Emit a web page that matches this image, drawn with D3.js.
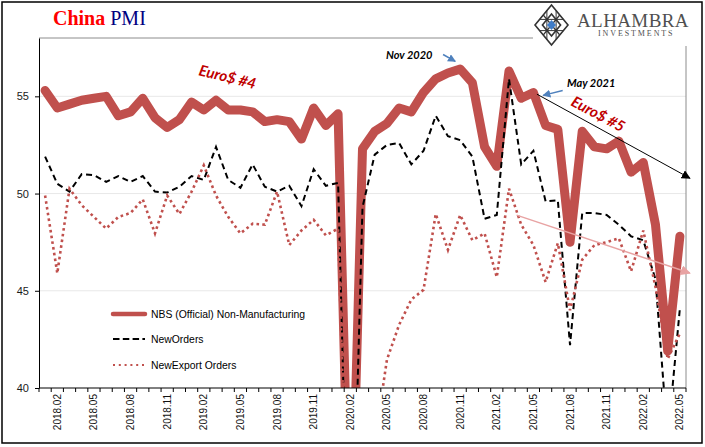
<!DOCTYPE html>
<html><head><meta charset="utf-8">
<script src="https://cdn.jsdelivr.net/npm/d3@7"></script>
<style>html,body{margin:0;padding:0;background:#fff;} svg{display:block;}</style>
</head><body>
<svg id="chart" width="705" height="447"></svg>
<script>
// ---------------- DATA ----------------
const categories = [
 "2018.01","2018.02","2018.03","2018.04","2018.05","2018.06","2018.07","2018.08","2018.09","2018.10","2018.11","2018.12",
 "2019.01","2019.02","2019.03","2019.04","2019.05","2019.06","2019.07","2019.08","2019.09","2019.10","2019.11","2019.12",
 "2020.01","2020.02","2020.03","2020.04","2020.05","2020.06","2020.07","2020.08","2020.09","2020.10","2020.11","2020.12",
 "2021.01","2021.02","2021.03","2021.04","2021.05","2021.06","2021.07","2021.08","2021.09","2021.10","2021.11","2021.12",
 "2022.01","2022.02","2022.03","2022.04","2022.05"];
const tickLabels = ["2018.02","2018.05","2018.08","2018.11","2019.02","2019.05","2019.08","2019.11","2020.02","2020.05","2020.08","2020.11","2021.02","2021.05","2021.08","2021.11","2022.02","2022.05"];
const nbs = [55.3,54.4,54.6,54.8,54.9,55.0,54.0,54.2,54.9,53.9,53.4,53.8,
 54.7,54.3,54.8,54.3,54.3,54.2,53.7,53.8,53.7,52.8,54.4,53.5,
 54.1,29.6,52.3,53.2,53.6,54.4,54.2,55.2,55.9,56.2,56.4,55.7,
 52.4,51.4,56.3,54.9,55.2,53.5,53.3,47.5,53.2,52.4,52.3,52.7,
 51.1,51.6,48.4,41.9,47.8];
const newOrders = [51.9,50.5,50.1,51.0,50.95,50.6,50.9,50.6,50.9,50.1,50.05,50.35,
 50.9,50.7,52.4,50.7,50.3,51.5,50.35,50.1,50.4,49.35,51.25,50.4,
 50.55,26.5,49.3,52.0,52.5,52.6,51.5,52.2,54.0,52.95,52.75,51.9,
 48.7,48.9,55.9,51.5,52.2,49.6,49.65,42.2,49.0,49.0,48.9,48.4,
 47.8,47.6,45.6,37.4,44.1];
const exportOrders = [49.9,45.9,50.25,49.4,48.8,48.2,48.8,49.0,49.7,47.95,49.9,48.95,
 50.1,51.45,49.9,48.8,47.95,48.45,48.4,50.1,47.35,48.1,48.65,47.85,
 48.2,26.9,33.0,37.2,41.45,43.25,44.55,45.05,48.95,47.1,48.9,47.6,
 47.95,45.7,50.25,48.4,47.35,45.45,47.45,44.0,46.6,47.35,47.5,47.7,
 46.0,48.1,45.2,41.5,42.8];
const yTicks = [40,45,50,55];
const gridValues = [45,50,55];
const seriesNames = ["NBS (Official) Non-Manufacturing","NewOrders","NewExport Orders"];
// annotation anchors in (month index, value) space
const trendBlack = [[40.29,55.11],[52.82,50.79]];
const trendPink = [[38.62,48.89],[52.82,45.91]];
const arrowNov = [[32.6,57.15],[33.6,56.8]];
const arrowMay = [[42.4,55.3],[40.8,55.05]];

// ---------------- CHART ----------------
const svg = d3.select("#chart");
const plot = {left:39, right:686, top:38, bottom:388};
const x = d3.scaleBand().domain(categories).range([plot.left, plot.right]).padding(0);
const xc = c => x(c) + x.bandwidth()/2;
const xi = d3.scaleLinear().domain([0, categories.length-1])
  .range([xc(categories[0]), xc(categories[categories.length-1])]);
const y = d3.scaleLinear().domain([40,58]).range([plot.bottom, plot.top]);

const red = "#C0504D";

// outer frame
svg.append("rect").attr("x",2).attr("y",2).attr("width",700).attr("height",441)
  .attr("fill","#fff").attr("stroke","#000").attr("stroke-width",1.5);

// defs
const defs = svg.append("defs");
defs.append("clipPath").attr("id","clip").append("rect")
  .attr("x",plot.left).attr("y",plot.top).attr("width",plot.right-plot.left).attr("height",plot.bottom-plot.top);
function marker(id,color,size){
  defs.append("marker").attr("id",id).attr("viewBox","0 0 10 10").attr("refX",9).attr("refY",5)
    .attr("markerWidth",size).attr("markerHeight",size).attr("markerUnits","userSpaceOnUse")
    .attr("orient","auto").append("path").attr("d","M0,0 L10,5 L0,10 z").attr("fill",color);
}
marker("mBlack","#000",9);
marker("mPink","#E8A3A3",10);
marker("mBlue","#4F81BD",8);

// gridlines
svg.append("g").selectAll("line").data(gridValues).join("line")
  .attr("x1",plot.left).attr("x2",plot.right).attr("y1",d=>y(d)).attr("y2",d=>y(d))
  .attr("stroke","#e8e8e8").attr("stroke-width",1);

// plot border (top + right, gray)
svg.append("line").attr("x1",plot.left).attr("x2",533).attr("y1",plot.top).attr("y2",plot.top)
  .attr("stroke","#8c8c8c").attr("stroke-width",1);
svg.append("line").attr("x1",plot.right).attr("x2",plot.right).attr("y1",46).attr("y2",plot.bottom)
  .attr("stroke","#8c8c8c").attr("stroke-width",1);

// series
const line = d3.line().x((d,i)=>xc(categories[i])).y(d=>y(d));
const g = svg.append("g").attr("clip-path","url(#clip)");
g.append("path").datum(nbs).attr("d",line).attr("fill","none").attr("stroke",red)
  .attr("stroke-width",9).attr("stroke-linejoin","round").attr("stroke-linecap","round");
g.append("path").datum(newOrders).attr("d",line).attr("fill","none").attr("stroke","#000")
  .attr("stroke-width",2).attr("stroke-dasharray","6,4");
g.append("path").datum(exportOrders).attr("d",line).attr("fill","none").attr("stroke",red)
  .attr("stroke-width",2.6).attr("stroke-dasharray","2.6,3.2");

// y axis
const yAxis = svg.append("g").attr("transform",`translate(${plot.left},0)`)
  .call(d3.axisLeft(y).tickValues(yTicks).tickSize(4).tickSizeOuter(0).tickPadding(6));
yAxis.select(".domain").attr("stroke","#000");
yAxis.selectAll(".tick line").attr("stroke","#000");
yAxis.selectAll(".tick text").attr("font-family","'Liberation Sans', Arial, sans-serif")
  .attr("font-size","11px").attr("fill","#1a1a1a");

// x axis
const xg = svg.append("g");
xg.append("line").attr("x1",plot.left).attr("x2",plot.right).attr("y1",plot.bottom).attr("y2",plot.bottom)
  .attr("stroke","#000");
const bounds = categories.map(c=>x(c)).concat([plot.right]);
xg.selectAll("line.t").data(bounds).join("line").attr("class","t")
  .attr("x1",d=>d).attr("x2",d=>d).attr("y1",plot.bottom).attr("y2",plot.bottom+4).attr("stroke","#000");
xg.selectAll("text").data(tickLabels).join("text")
  .attr("transform",d=>`translate(${xc(d)},${plot.bottom+6}) rotate(-90)`)
  .attr("text-anchor","end").attr("dy","0.35em")
  .attr("font-family","'Liberation Sans', Arial, sans-serif").attr("font-size","10px").attr("fill","#111")
  .text(d=>d);

// legend
const legY = [314,339,365];
const leg = svg.append("g");
leg.append("line").attr("x1",113).attr("x2",145).attr("y1",legY[0]).attr("y2",legY[0])
  .attr("stroke",red).attr("stroke-width",4.5).attr("stroke-linecap","round");
leg.append("line").attr("x1",113).attr("x2",145).attr("y1",legY[1]).attr("y2",legY[1])
  .attr("stroke","#000").attr("stroke-width",2).attr("stroke-dasharray","6.5,3.3");
leg.append("line").attr("x1",113).attr("x2",145).attr("y1",legY[2]).attr("y2",legY[2])
  .attr("stroke",red).attr("stroke-width",2.2).attr("stroke-dasharray","2,3.8");
leg.selectAll("text").data(seriesNames).join("text")
  .attr("x",151).attr("y",(d,i)=>legY[i]+4)
  .attr("font-family","'Liberation Sans', Arial, sans-serif").attr("font-size","10.4px").attr("fill","#000")
  .text(d=>d);

// title
const title = svg.append("text").attr("x",53).attr("y",25)
  .attr("font-family","'Liberation Serif','Times New Roman',serif").attr("font-size","20px");
title.append("tspan").attr("fill","#FF0000").attr("font-weight","bold").text("China ");
title.append("tspan").attr("fill","#000080").text("PMI");

// logo
const logo = svg.append("g");
logo.append("rect").attr("x",533).attr("y",3).attr("width",168).attr("height",43).attr("fill","#fff");
const cx=551.5, cy=25, hw=16.5, hh=20;
const lg = logo.append("g").attr("stroke","#333").attr("fill","none").attr("stroke-width",1.6);
lg.append("path").attr("d",`M${cx},${cy-hh} L${cx+hw},${cy} L${cx},${cy+hh} L${cx-hw},${cy} Z`);
lg.append("path").attr("d",`M${cx},${cy-hh*0.55} L${cx+hw*0.55},${cy} L${cx},${cy+hh*0.55} L${cx-hw*0.55},${cy} Z`);
lg.append("path").attr("d",`M${cx-hw*0.5},${cy-hh*0.5} L${cx+hw*0.5},${cy+hh*0.5} M${cx+hw*0.5},${cy-hh*0.5} L${cx-hw*0.5},${cy+hh*0.5}`).attr("stroke-width",1.2);
lg.append("path").attr("d",`M${cx-hw*0.72},${cy-hh*0.28} L${cx+hw*0.72},${cy-hh*0.28} M${cx-hw*0.72},${cy+hh*0.28} L${cx+hw*0.72},${cy+hh*0.28} M${cx-hw*0.28},${cy-hh*0.72} L${cx-hw*0.28},${cy+hh*0.72} M${cx+hw*0.28},${cy-hh*0.72} L${cx+hw*0.28},${cy+hh*0.72}`).attr("stroke-width",1);
logo.append("path").attr("d",`M${cx},${cy-5} L${cx+4.5},${cy} L${cx},${cy+5} L${cx-4.5},${cy} Z`).attr("fill","#3F7CC8");
logo.append("text").attr("x",577).attr("y",26.5).attr("font-family","'Liberation Serif','Times New Roman',serif")
  .attr("font-size","19px").attr("fill","#505050").attr("letter-spacing","0.4").text("ALHAMBRA");
logo.append("text").attr("x",598).attr("y",36).attr("font-family","'Liberation Serif','Times New Roman',serif")
  .attr("font-size","8px").attr("fill","#505050").attr("letter-spacing","1.9").text("INVESTMENTS");

// annotation arrows
function arrow(pts,color,w,mk){
  svg.append("line").attr("x1",xi(pts[0][0])).attr("y1",y(pts[0][1]))
    .attr("x2",xi(pts[1][0])).attr("y2",y(pts[1][1]))
    .attr("stroke",color).attr("stroke-width",w).attr("marker-end",`url(#${mk})`);
}
arrow(trendBlack,"#000",1,"mBlack");
arrow(trendPink,"#E8A3A3",1.5,"mPink");
arrow(arrowNov,"#4F81BD",1.5,"mBlue");
arrow(arrowMay,"#4F81BD",1.5,"mBlue");

// annotation texts
const af = "Lato, 'Open Sans', sans-serif";
svg.append("text").attr("transform","translate(198,75) rotate(14)")
  .attr("font-family",af).attr("font-weight","bold").attr("font-style","italic")
  .attr("font-size","15px").attr("fill","#C00000").text("Euro$ #4");
svg.append("text").attr("transform","translate(570,105) rotate(28)")
  .attr("font-family",af).attr("font-weight","bold").attr("font-style","italic")
  .attr("font-size","15px").attr("fill","#C00000").text("Euro$ #5");
svg.append("text").attr("x",386).attr("y",59)
  .attr("font-family",af).attr("font-weight","bold").attr("font-style","italic")
  .attr("font-size","11px").attr("fill","#000").text("Nov 2020");
svg.append("text").attr("x",567).attr("y",86.5)
  .attr("font-family",af).attr("font-weight","bold").attr("font-style","italic")
  .attr("font-size","11px").attr("fill","#000").text("May 2021");
</script>
</body></html>
